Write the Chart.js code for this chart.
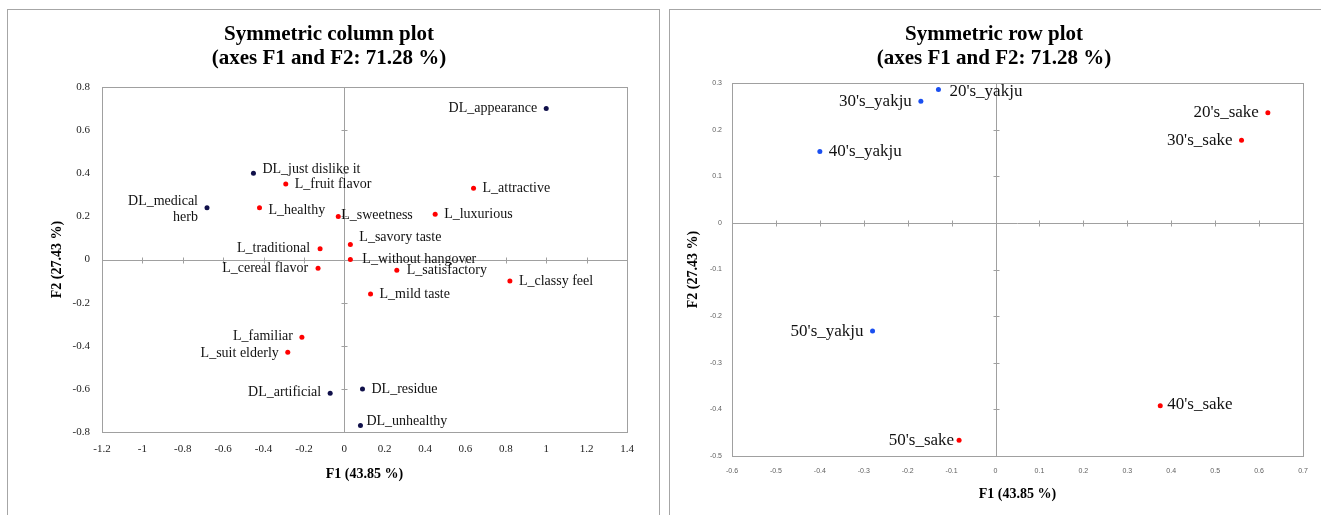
<!DOCTYPE html>
<html lang="en">
<head>
  <meta charset="UTF-8" />
  <title>Symmetric plots (axes F1 and F2: 71.28 %)</title>
  <script src="https://cdn.jsdelivr.net/npm/chart.js"></script>
  <style>
    body {
      margin: 0;
      background: #fff;
      width: 1321px;
      height: 515px;
      overflow: hidden;
      position: relative;
    }
    .panel {
      position: absolute;
      top: 9px;
      height: 600px;
      box-sizing: border-box;
      border: 1px solid #a6a6a6;
    }
    #panelLeft { left: 7px; width: 653px; }
    #panelRight { left: 669px; width: 700px; }
    canvas { position: absolute; top: 0; }
    #colChart { left: 0; }
    #rowChart { left: 660px; }
  </style>
</head>
<body>
  <div class="panel" id="panelLeft"></div>
  <div class="panel" id="panelRight"></div>
  <canvas id="colChart" width="660" height="515"></canvas>
  <canvas id="rowChart" width="661" height="515"></canvas>

  <script>
    // column plot: liking (L_) and disliking (DL_) attributes
    const colLikeLabels = ['L_fruit flavor', 'L_healthy', 'L_sweetness', 'L_traditional', 'L_cereal flavor',
      'L_savory taste', 'L_without hangover', 'L_attractive', 'L_luxurious', 'L_satisfactory',
      'L_classy feel', 'L_mild taste', 'L_familiar', 'L_suit elderly'];
    const colLikeF1 = [-0.29, -0.42, -0.03, -0.12, -0.13, 0.03, 0.03, 0.64, 0.45, 0.26, 0.82, 0.13, -0.21, -0.28];
    const colLikeF2 = [0.35, 0.24, 0.20, 0.05, -0.04, 0.07, 0.00, 0.33, 0.21, -0.05, -0.10, -0.16, -0.36, -0.43];

    const colDislikeLabels = ['DL_appearance', 'DL_just dislike it', 'DL_medical herb', 'DL_artificial', 'DL_residue', 'DL_unhealthy'];
    const colDislikeF1 = [1.00, -0.45, -0.68, -0.07, 0.09, 0.08];
    const colDislikeF2 = [0.70, 0.40, 0.24, -0.62, -0.60, -0.77];

    // row plot: age groups
    const rowYakjuLabels = ["20's_yakju", "30's_yakju", "40's_yakju", "50's_yakju"];
    const rowYakjuF1 = [-0.13, -0.17, -0.40, -0.28];
    const rowYakjuF2 = [0.286, 0.261, 0.153, -0.232];

    const rowSakeLabels = ["20's_sake", "30's_sake", "40's_sake", "50's_sake"];
    const rowSakeF1 = [0.62, 0.56, 0.375, -0.083];
    const rowSakeF2 = [0.236, 0.177, -0.392, -0.466];

    const colXTicks = { min: -1.2, max: 1.4, step: 0.2 };
    const colYTicks = { min: -0.8, max: 0.8, step: 0.2 };
    const rowXTicks = { min: -0.6, max: 0.7, step: 0.1 };
    const rowYTicks = { min: -0.5, max: 0.3, step: 0.1 };

    // where each label sits next to its point
    const colLabelPos = {
      'DL_appearance': { side: 'left' },
      'DL_just dislike it': { dy: -4 },
      'DL_medical herb': { side: 'left', lines: ['DL_medical', 'herb'], dy: -6 },
      'L_healthy': { dy: 3 },
      'L_sweetness': { gap: 3, dy: -1 },
      'L_traditional': { side: 'left', gap: 10 },
      'L_cereal flavor': { side: 'left', gap: 10 },
      'L_savory taste': { gap: 9, dy: -7 },
      'L_without hangover': { gap: 12 },
      'L_satisfactory': { gap: 10 },
      'L_familiar': { side: 'left', dy: -1 },
      'L_suit elderly': { side: 'left', dy: 1 },
      'DL_artificial': { side: 'left', dy: -1 },
      'DL_unhealthy': { gap: 6, dy: -4 }
    };
    const rowLabelPos = {
      "20's_yakju": { gap: 11, dy: 2 },
      "30's_yakju": { side: 'left' },
      "20's_sake": { side: 'left' },
      "30's_sake": { side: 'left' },
      "50's_yakju": { side: 'left' },
      "50's_sake": { side: 'left', gap: 5 },
      "40's_sake": { gap: 7, dy: -1 }
    };

    const serif = '"Liberation Serif", "Times New Roman", serif';

    const pts = (xs, ys) => xs.map((v, i) => ({ x: v, y: ys[i] }));
    const fmt = v => String(Math.round(v * 10) / 10);

    const frameAndLabels = {
      id: 'frameAndLabels',
      beforeDatasetsDraw(chart) {
        const { ctx, chartArea: a, scales: { x, y } } = chart;
        const x0 = Math.round(x.getPixelForValue(0)) + 0.5;
        const y0 = Math.round(y.getPixelForValue(0)) + 0.5;
        ctx.save();
        ctx.strokeStyle = '#a0a0a0';
        ctx.lineWidth = 1;
        ctx.strokeRect(Math.round(a.left) + 0.5, Math.round(a.top) + 0.5,
          Math.round(a.right - a.left), Math.round(a.bottom - a.top));
        ctx.beginPath();
        ctx.moveTo(x0, a.top); ctx.lineTo(x0, a.bottom);
        ctx.moveTo(a.left, y0); ctx.lineTo(a.right, y0);
        x.ticks.forEach(t => {
          const px = Math.round(x.getPixelForValue(t.value)) + 0.5;
          ctx.moveTo(px, y0 - 3); ctx.lineTo(px, y0 + 3);
        });
        y.ticks.forEach(t => {
          const py = Math.round(y.getPixelForValue(t.value)) + 0.5;
          ctx.moveTo(x0 - 3, py); ctx.lineTo(x0 + 3, py);
        });
        ctx.stroke();
        ctx.restore();
      },
      afterDatasetsDraw(chart, args, opts) {
        const ctx = chart.ctx;
        ctx.save();
        ctx.font = opts.font;
        ctx.fillStyle = '#111';
        ctx.textBaseline = 'middle';
        chart.data.datasets.forEach((ds, i) => {
          chart.getDatasetMeta(i).data.forEach((el, j) => {
            const name = ds.pointLabels[j];
            const p = opts.place[name] || {};
            const gap = p.gap != null ? p.gap : opts.gap;
            const lines = p.lines || [name];
            const left = p.side === 'left';
            ctx.textAlign = left ? 'right' : 'left';
            const tx = left ? el.x - gap : el.x + gap;
            lines.forEach((ln, k) => {
              ctx.fillText(ln, tx, el.y + (p.dy || 0) + k * opts.lineStep);
            });
          });
        });
        ctx.restore();
      }
    };

    function makeChart(id, cfg) {
      return new Chart(document.getElementById(id), {
        type: 'scatter',
        data: { datasets: cfg.datasets },
        plugins: [frameAndLabels],
        options: {
          responsive: false,
          animation: false,
          layout: { padding: { left: cfg.padLeft, right: cfg.padRight, top: 0, bottom: 0 } },
          elements: { point: { radius: cfg.dot, borderWidth: 0, hoverRadius: cfg.dot } },
          plugins: {
            legend: { display: false },
            tooltip: { enabled: false },
            title: {
              display: true,
              text: cfg.title,
              color: '#000',
              font: { family: serif, size: 21, weight: 'bold', lineHeight: 24 / 21 },
              padding: { top: 23, bottom: cfg.titleGap }
            },
            frameAndLabels: { place: cfg.place, font: cfg.labelFont, gap: 9, lineStep: 16 }
          },
          scales: {
            x: {
              type: 'linear',
              min: cfg.xt.min, max: cfg.xt.max,
              grid: { display: false, drawTicks: false },
              border: { display: false },
              ticks: { stepSize: cfg.xt.step, callback: fmt, font: cfg.tickFont, color: cfg.tickColor, padding: cfg.xPad, maxRotation: 0, autoSkip: false },
              title: { display: true, text: 'F1 (43.85 %)', color: '#000', font: { family: serif, size: 14, weight: 'bold' }, padding: { top: 0, bottom: cfg.xTitlePad } },
              afterFit: s => { s.height = cfg.xHeight; }
            },
            y: {
              type: 'linear',
              min: cfg.yt.min, max: cfg.yt.max,
              grid: { display: false, drawTicks: false },
              border: { display: false },
              ticks: { stepSize: cfg.yt.step, callback: fmt, font: cfg.tickFont, color: cfg.tickColor, padding: cfg.yPad, autoSkip: false },
              title: { display: true, text: 'F2 (27.43 %)', color: '#000', font: { family: serif, size: 14, weight: 'bold' }, padding: { top: cfg.yTitlePad, bottom: 0 } },
              afterFit: s => { s.width = cfg.yWidth; }
            }
          }
        }
      });
    }

    makeChart('colChart', {
      title: ['Symmetric column plot', '(axes F1 and F2: 71.28 %)'],
      datasets: [
        { data: pts(colLikeF1, colLikeF2), pointLabels: colLikeLabels, backgroundColor: '#ff0000' },
        { data: pts(colDislikeF1, colDislikeF2), pointLabels: colDislikeLabels, backgroundColor: '#10104a' }
      ],
      place: colLabelPos,
      labelFont: '14px ' + serif,
      dot: 2.5,
      xt: colXTicks, yt: colYTicks,
      tickFont: { family: serif, size: 11 }, tickColor: '#222',
      padLeft: 31, padRight: 33, titleGap: 16,
      yWidth: 71, yPad: 12, yTitlePad: 18,
      xHeight: 83, xPad: 11, xTitlePad: 32
    });

    makeChart('rowChart', {
      title: ['Symmetric row plot', '(axes F1 and F2: 71.28 %)'],
      datasets: [
        { data: pts(rowYakjuF1, rowYakjuF2), pointLabels: rowYakjuLabels, backgroundColor: '#1a4ff0' },
        { data: pts(rowSakeF1, rowSakeF2), pointLabels: rowSakeLabels, backgroundColor: '#ff0000' }
      ],
      place: rowLabelPos,
      labelFont: '17px ' + serif,
      dot: 2.5,
      xt: rowXTicks, yt: rowYTicks,
      tickFont: { family: '"Liberation Sans", sans-serif', size: 7 }, tickColor: '#606060',
      padLeft: 25, padRight: 18, titleGap: 12,
      yWidth: 47, yPad: 10, yTitlePad: 0,
      xHeight: 59, xPad: 11, xTitlePad: 12
    });
  </script>
</body>
</html>
